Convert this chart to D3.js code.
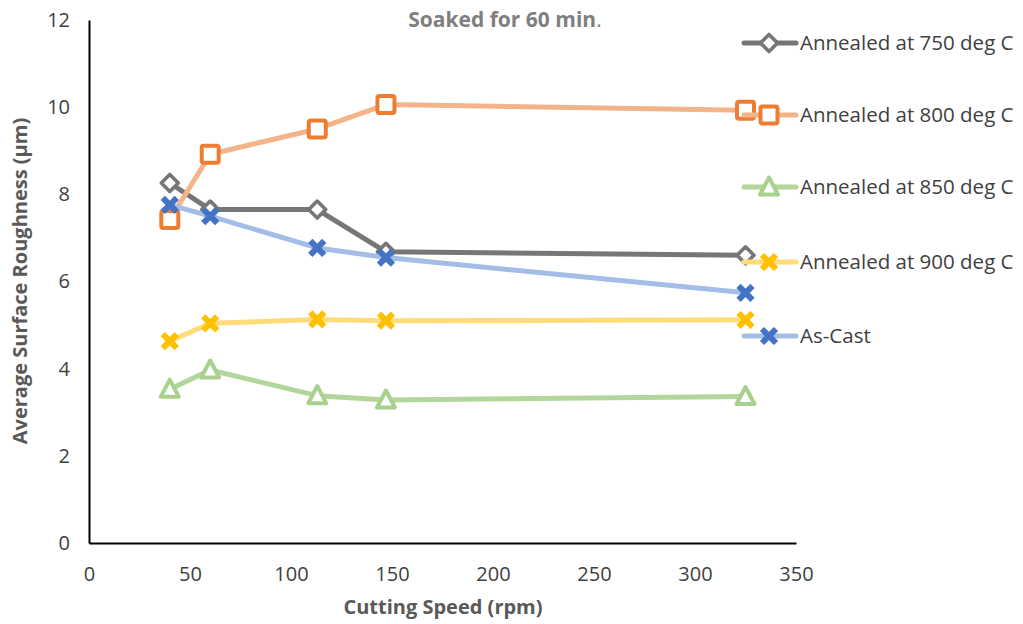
<!DOCTYPE html>
<html><head><meta charset="utf-8">
<script src="https://cdn.jsdelivr.net/npm/d3@7"></script>
<style>body{margin:0;background:#fff}svg{display:block}</style>
</head><body>
<svg id="c" width="1023" height="624"></svg>
<script>
const speeds = [40, 60, 113, 147, 325];
const seriesNames = ["Annealed at 750 deg C","Annealed at 800 deg C","Annealed at 850 deg C","Annealed at 900 deg C","As-Cast"];
const a750 = [8.26, 7.65, 7.65, 6.68, 6.60];
const a800 = [7.42, 8.92, 9.50, 10.06, 9.93];
const a850 = [3.53, 3.97, 3.38, 3.28, 3.36];
const a900 = [4.63, 5.04, 5.13, 5.10, 5.12];
const asCast = [7.76, 7.50, 6.77, 6.55, 5.74];
const xTicks = [0,50,100,150,200,250,300,350];
const yTicks = [0,2,4,6,8,10,12];
const titleText = "Soaked for 60 min";
const xTitle = "Cutting Speed (rpm)";
const yTitle = "Average Surface Roughness (µm)";

const styles = [
  {line:"#767676", mark:"#767676", shape:"diamond"},
  {line:"#f4b48a", mark:"#ed7d31", shape:"square"},
  {line:"#b2d69c", mark:"#a9d18e", shape:"triangle"},
  {line:"#ffdc78", mark:"#ffc000", shape:"x"},
  {line:"#a3bde6", mark:"#4472c4", shape:"x"}
];
const allSeries = [a750,a800,a850,a900,asCast];

const svg = d3.select("#c");
const font = "'Open Sans', 'Liberation Sans', sans-serif";
const x = d3.scaleLinear().domain([0,350]).range([89,796]);
const y = d3.scaleLinear().domain([0,12]).range([543,20]);

// axes
const xa = svg.append("g").attr("transform","translate(0,543)")
  .call(d3.axisBottom(x).tickValues(xTicks).tickSize(0).tickPadding(24));
const ya = svg.append("g").attr("transform","translate(89,0)")
  .call(d3.axisLeft(y).tickValues(yTicks).tickSize(0).tickPadding(19));
[xa,ya].forEach(a=>{
  a.select(".domain").attr("stroke","#000").attr("stroke-width",2);
  a.selectAll("text").attr("font-family",font).attr("font-size",20).attr("fill","#404040");
});
xa.selectAll("text").attr("dy","0.7em");

function drawMarker(g, shape, cx, cy, color){
  if(shape==="diamond"){
    g.append("path").attr("d",`M${cx},${cy-8.5}L${cx+8.5},${cy}L${cx},${cy+8.5}L${cx-8.5},${cy}Z`)
      .attr("fill","#fff").attr("stroke",color).attr("stroke-width",3.6).attr("stroke-linejoin","round");
  } else if(shape==="square"){
    g.append("rect").attr("x",cx-8.5).attr("y",cy-8.5).attr("width",17).attr("height",17).attr("rx",2)
      .attr("fill","#fff").attr("stroke",color).attr("stroke-width",4);
  } else if(shape==="triangle"){
    g.append("path").attr("d",`M${cx},${cy-9.5}L${cx+9},${cy+7.5}L${cx-9},${cy+7.5}Z`)
      .attr("fill","#fff").attr("stroke",color).attr("stroke-width",4).attr("stroke-linejoin","round");
  } else {
    g.append("path").attr("d",`M${cx-7},${cy-7}L${cx+7},${cy+7}M${cx+7},${cy-7}L${cx-7},${cy+7}`)
      .attr("stroke",color).attr("stroke-width",6).attr("fill","none");
  }
}

const line = d3.line().x((d,i)=>x(speeds[i])).y(d=>y(d));
allSeries.forEach((vals,si)=>{
  const st = styles[si];
  const g = svg.append("g");
  g.append("path").datum(vals).attr("d",line).attr("fill","none")
    .attr("stroke",st.line).attr("stroke-width",5).attr("stroke-linejoin","round");
  vals.forEach((v,i)=>drawMarker(g, st.shape, x(speeds[i]), y(v), st.mark));
});

// legend
const legY = [43,115,187,262,336];
seriesNames.forEach((n,i)=>{
  const st = styles[i];
  const g = svg.append("g");
  g.append("line").attr("x1",744).attr("x2",796).attr("y1",legY[i]).attr("y2",legY[i])
    .attr("stroke",st.line).attr("stroke-width",5).attr("stroke-linecap","round");
  drawMarker(g, st.shape, 769, legY[i], st.mark);
  g.append("text").attr("x",800).attr("y",legY[i]).attr("dy","0.35em")
    .attr("font-family",font).attr("font-size",20.5).attr("fill","#404040").text(n);
});

// titles
const t = svg.append("text").attr("x",505).attr("y",20).attr("dy","0.35em").attr("text-anchor","middle")
  .attr("font-family",font).attr("font-size",21).attr("fill","#7f7f7f");
t.append("tspan").attr("font-weight","bold").text(titleText);
t.append("tspan").text(".");
svg.append("text").attr("x",443).attr("y",607).attr("dy","0.35em").attr("text-anchor","middle")
  .attr("font-family",font).attr("font-size",20).attr("font-weight","bold").attr("fill","#595959").text(xTitle);
svg.append("text").attr("transform","translate(20,281) rotate(-90)").attr("dy","0.35em").attr("text-anchor","middle")
  .attr("font-family",font).attr("font-size",20).attr("font-weight","bold").attr("fill","#595959").text(yTitle);
</script>
</body></html>
